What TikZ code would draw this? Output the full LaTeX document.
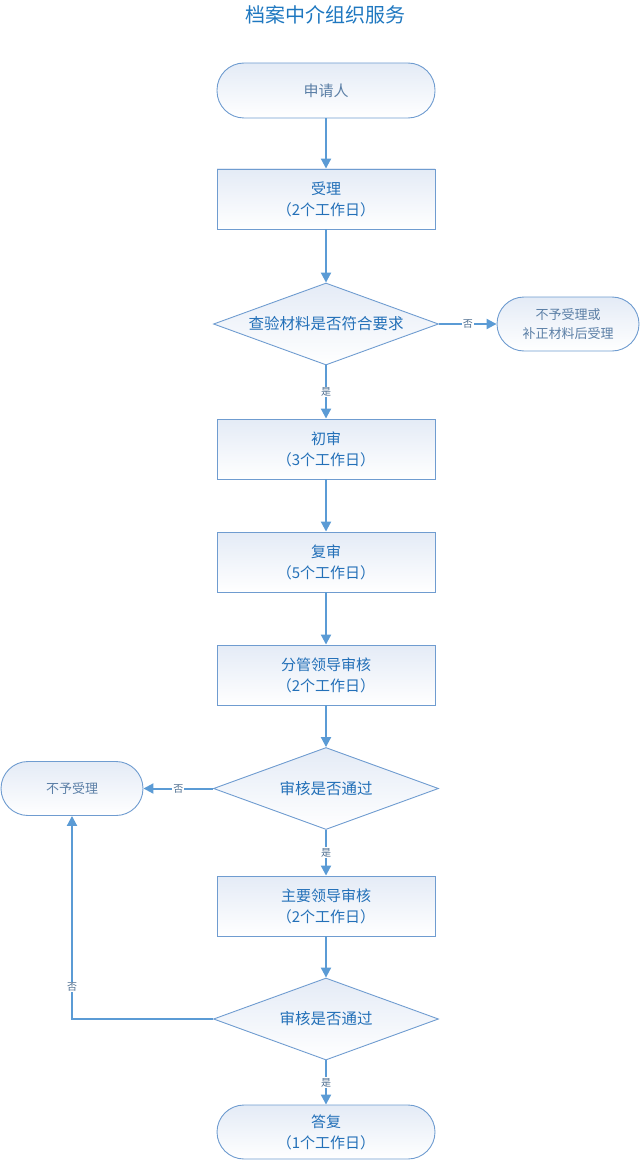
\documentclass[tikz,border=0pt]{standalone}
\usepackage{fontspec}
\setmainfont{Noto Sans CJK SC}
\usetikzlibrary{shapes.geometric,arrows.meta}
\definecolor{bordc}{HTML}{6F9CD0}
\definecolor{txtc}{HTML}{2370B8}
\definecolor{greytxt}{HTML}{5B7FA6}
\definecolor{arrc}{HTML}{5B9BD5}
\definecolor{topc}{HTML}{E4EBF6}
\definecolor{lblc}{HTML}{4F6F90}
\definecolor{titc}{HTML}{1F78C0}
\tikzset{
 base/.style={draw=bordc, line width=0.9pt, top color=topc, bottom color=white, inner sep=0pt, align=center, text=txtc, font=\fontsize{15}{21}\selectfont},
 procbox/.style={base, rectangle, minimum width=218pt, minimum height=60pt},
 termbox/.style={base, rectangle, rounded corners=27pt, minimum width=218pt, minimum height=55pt},
 smallterm/.style={termbox, minimum width=142pt, minimum height=54pt, text=greytxt, font=\fontsize{13}{19}\selectfont},
 decbox/.style={base, diamond, minimum width=225pt, minimum height=82pt, aspect=2.74, font=\fontsize{15.5}{21}\selectfont},
 flow/.style={draw=arrc, line width=2pt, -{Triangle[length=10pt,width=10pt]}},
 lbl/.style={fill=white, inner sep=1pt, text=lblc, font=\fontsize{10}{12}\selectfont},
}
\begin{document}
\begin{tikzpicture}[x=1pt,y=-1pt]
\useasboundingbox (0,0) rectangle (640,1161);
\node[text=titc, font=\fontsize{20}{24}\selectfont] (title) at (325,15) {档案中介组织服务};
\node[termbox, text=greytxt] (n0) at (326,90.5) {申请人};
\node[procbox] (n1) at (326,199) {受理\\（2个工作日）};
\node[decbox] (d1) at (326,324) {查验材料是否符合要求};
\node[smallterm] (r1) at (568,324) {不予受理或\\补正材料后受理};
\node[procbox] (n2) at (326,449) {初审\\（3个工作日）};
\node[procbox] (n3) at (326,562) {复审\\（5个工作日）};
\node[procbox] (n4) at (326,675) {分管领导审核\\（2个工作日）};
\node[decbox] (d2) at (326,788.5) {审核是否通过};
\node[smallterm] (l1) at (72,788.5) {不予受理};
\node[procbox] (n5) at (326,906) {主要领导审核\\（2个工作日）};
\node[decbox] (d3) at (326,1019) {审核是否通过};
\node[termbox, minimum height=54pt] (n6) at (326,1132) {答复\\（1个工作日）};
\draw[flow] (n0) -- (n1);
\draw[flow] (n1) -- (d1);
\draw[flow] (d1.east) -- node[lbl] {否} (r1.west);
\draw[flow] (d1.south) -- node[lbl] {是} (n2.north);
\draw[flow] (n2) -- (n3);
\draw[flow] (n3) -- (n4);
\draw[flow] (n4) -- (d2.north);
\draw[flow] (d2.west) -- node[lbl] {否} (l1.east);
\draw[flow] (d2.south) -- node[lbl] {是} (n5.north);
\draw[flow] (n5) -- (d3.north);
\draw[flow] (d3.south) -- node[lbl] {是} (n6.north);
\draw[flow] (d3.west) -| node[lbl, pos=0.579] {否} (l1.south);
\end{tikzpicture}
\end{document}
